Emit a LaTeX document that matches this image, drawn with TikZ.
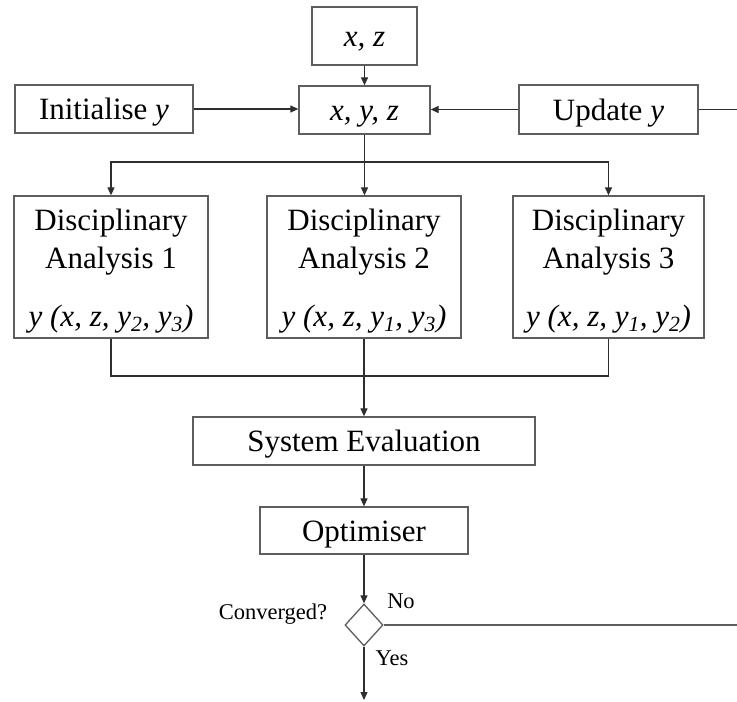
\documentclass[tikz,border=0pt]{standalone}
\usepackage{fontspec}
\setmainfont{Liberation Serif}
\usetikzlibrary{arrows.meta,shapes.geometric}
\definecolor{boxgray}{HTML}{5E5E5E}
\definecolor{linecol}{HTML}{2E2E2E}
\begin{document}
\begin{tikzpicture}[x=1pt,y=-1pt,
  box/.style={draw=boxgray, line width=1.3pt, inner sep=0pt,
    text height=24pt, text depth=3pt,
    font=\fontsize{31}{37}\selectfont},
  txt/.style={inner sep=0pt, anchor=base, font=\fontsize{31}{37}\selectfont},
  small/.style={inner sep=0pt, font=\fontsize{22.5}{27}\selectfont},
  conn/.style={draw=linecol, line width=1.2pt},
  arr/.style={conn, -{Triangle[length=8pt,width=7pt]}},
  decision/.style={diamond, draw=boxgray, line width=1.3pt, inner sep=0pt,
    minimum width=38pt, minimum height=42pt}]
  \fill[white] (0,0) rectangle (737,702);
  \useasboundingbox (0,0) rectangle (737,702);

  % top row
  \node[box, minimum width=105pt, minimum height=58pt] (xz) at (364.5,36) {\textit{x, z}};
  \node[box, minimum width=131pt, minimum height=48pt] (xyz) at (364.5,110) {\textit{x, y, z}};
  \node[box, minimum width=178pt, minimum height=48pt] (init) at (104,109) {Initialise \textit{y}};
  \node[box, minimum width=179pt, minimum height=49pt] (upd) at (608.5,109.5) {Update \textit{y}};

  % disciplinary analyses
  \node[draw=boxgray, line width=1.3pt, minimum width=194pt, minimum height=142pt] (da1) at (111,267) {};
  \node[draw=boxgray, line width=1.3pt, minimum width=194pt, minimum height=142pt] (da2) at (364,267) {};
  \node[draw=boxgray, line width=1.3pt, minimum width=191pt, minimum height=142pt] (da3) at (608.5,267) {};
  \node[txt] (da1a) at (111,230) {Disciplinary};
  \node[txt] (da1b) at (111,268) {Analysis 1};
  \node[txt] (da1c) at (111,326) {\textit{y (x, z, y\textsubscript{2}, y\textsubscript{3})}};
  \node[txt] (da2a) at (364,230) {Disciplinary};
  \node[txt] (da2b) at (364,268) {Analysis 2};
  \node[txt] (da2c) at (364,326) {\textit{y (x, z, y\textsubscript{1}, y\textsubscript{3})}};
  \node[txt] (da3a) at (608.5,230) {Disciplinary};
  \node[txt] (da3b) at (608.5,268) {Analysis 3};
  \node[txt] (da3c) at (608.5,326) {\textit{y (x, z, y\textsubscript{1}, y\textsubscript{2})}};

  % evaluation and optimiser
  \node[box, minimum width=342pt, minimum height=48pt] (sys) at (364,441) {System Evaluation};
  \node[box, minimum width=208pt, minimum height=47pt] (opt) at (364,530.5) {Optimiser};
  \node[decision] (dia) at (364,625) {};
  \node[small] (conv) at (273,614) {Converged?};
  \node[small] (no) at (401,601) {No};
  \node[small] (yes) at (392,658) {Yes};

  % free ends and junctions
  \coordinate (outR) at (737,109.5);
  \coordinate (split) at (364.5,162);
  \coordinate (merge) at (364,376);
  \coordinate (outNo) at (737,625);
  \coordinate (outYes) at (364,700);

  % connectors
  \draw[arr] (xz.south) -- (xyz.north);
  \draw[arr] (init.east) -- (init.east -| xyz.west);
  \draw[arr] (upd.west) -- (upd.west -| xyz.east);
  \draw[conn] (upd.east) -- (outR);
  \draw[conn] (xyz.south) -- (split);
  \draw[arr] (split) -| (da1.north);
  \draw[arr] (split) -| (da3.north);
  \draw[arr] (split) -- (split |- da2.north);
  \draw[conn] (da1.south) |- (merge);
  \draw[conn] (da3.south) |- (merge);
  \draw[arr] (da2.south) -- (sys.north);
  \draw[arr] (sys.south) -- (opt.north);
  \draw[arr] (opt.south) -- (dia.north);
  \draw[conn, draw=boxgray] (dia.east) -- (outNo);
  \draw[arr] (dia.south) -- (outYes);
\end{tikzpicture}
\end{document}
